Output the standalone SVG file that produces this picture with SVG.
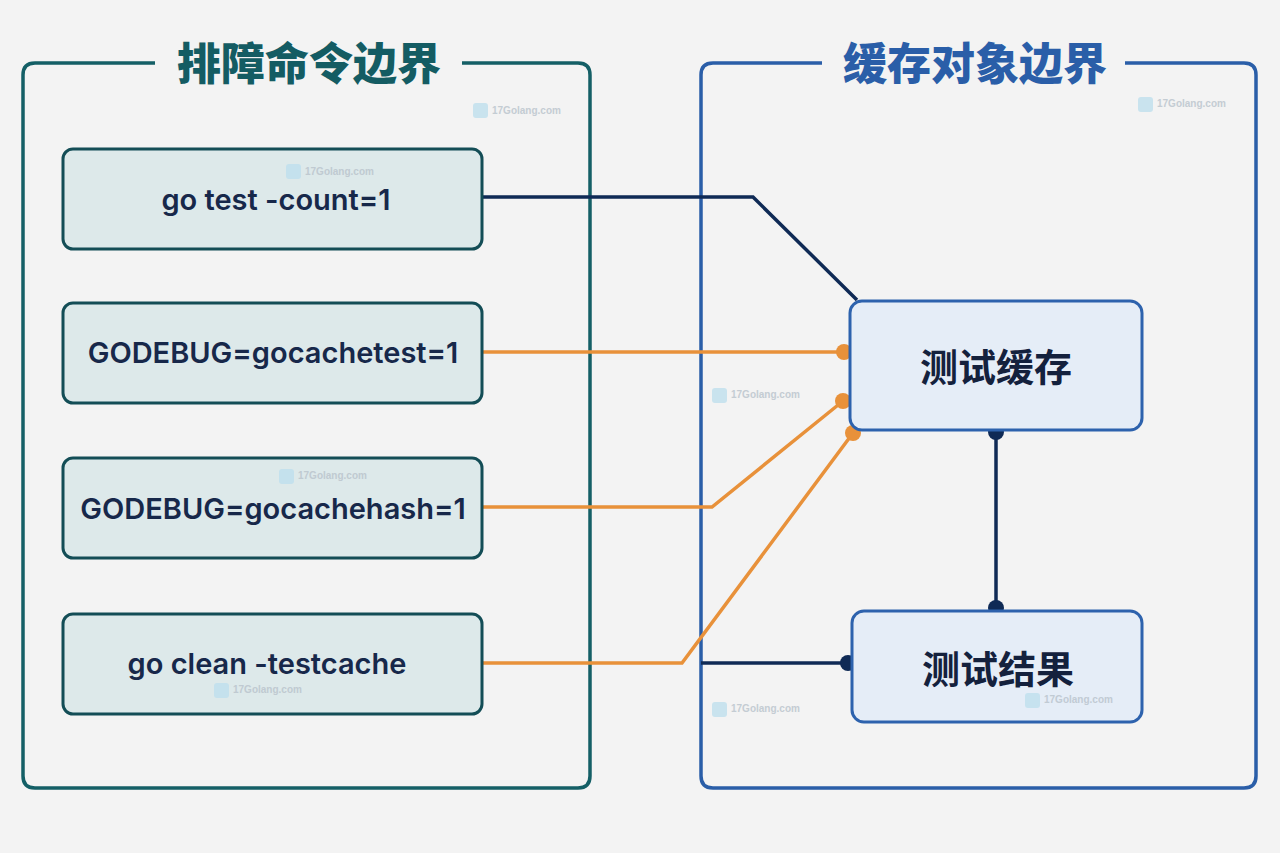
<svg xmlns="http://www.w3.org/2000/svg" width="1280" height="853" viewBox="0 0 1280 853">
<defs>
<style>
.bg{fill:#f3f3f3}
.cl{fill:none;stroke:#145f66;stroke-width:3.5}
.cr{fill:none;stroke:#2a5ea8;stroke-width:3.5}
.tl{font-family:"Noto Sans CJK SC","Noto Sans",sans-serif;font-weight:900;font-size:44px;fill:#145c63;text-anchor:middle}
.tr{font-family:"Noto Sans CJK SC","Noto Sans",sans-serif;font-weight:900;font-size:44px;fill:#2a5ea8;text-anchor:middle}
.nl{fill:#dde9ea;stroke:#134d56;stroke-width:3}
.nr{fill:#e5edf7;stroke:#2d62ad;stroke-width:3}
.tn{font-family:Inter,"Noto Sans",sans-serif;font-weight:600;font-size:29px;fill:#17284a;text-anchor:middle}
.tc{font-family:"Noto Sans CJK SC","Noto Sans",sans-serif;font-weight:700;font-size:38px;fill:#14213d;text-anchor:middle}
.navy{fill:none;stroke:#0f2a55;stroke-width:3.5;stroke-linejoin:miter}
.org{fill:none;stroke:#e8913a;stroke-width:3.5}
.dn{fill:#0f2a55}
.do{fill:#e8913a}
.wm{font-family:"Liberation Sans",Arial,sans-serif;font-size:10px;font-weight:700;fill:#b9c3cc}
.wi{fill:#bfe0ee}
</style>
</defs>
<rect class="bg" x="0" y="0" width="1280" height="853"/>

<g id="boundary-left">
<path class="cl" d="M155,63 H35 Q23,63 23,75 V776 Q23,788 35,788 H578 Q590,788 590,776 V75 Q590,63 578,63 H462"/>
<text class="tl" x="309" y="80">排障命令边界</text>
</g>
<g id="boundary-right">
<path class="cr" d="M822,63 H713 Q701,63 701,75 V776 Q701,788 713,788 H1244 Q1256,788 1256,776 V75 Q1256,63 1244,63 H1125"/>
<text class="tr" x="975" y="80">缓存对象边界</text>
</g>

<g id="connectors">
<polyline class="navy" points="482,197 753,197 857,300"/>
<polyline class="org" points="482,352 844,352"/>
<polyline class="org" points="482,507 712,507 843,401"/>
<polyline class="org" points="482,663 682,663 853,433"/>
<polyline class="navy" points="701,663 848,663"/>
<polyline class="navy" points="996,432 996,608"/>
<circle class="do" cx="844" cy="352" r="8"/>
<circle class="do" cx="843" cy="401" r="8"/>
<circle class="do" cx="853" cy="433" r="8"/>
<circle class="dn" cx="848" cy="663" r="8"/>
<circle class="dn" cx="996" cy="432" r="8"/>
<circle class="dn" cx="996" cy="608" r="8"/>
</g>

<g id="n-count">
<rect class="nl" x="63" y="149" width="419" height="100" rx="10"/>
<text class="tn" x="276" y="210">go test -count=1</text>
</g>
<g id="n-gocachetest">
<rect class="nl" x="63" y="303" width="419" height="100" rx="10"/>
<text class="tn" x="273" y="363">GODEBUG=gocachetest=1</text>
</g>
<g id="n-gocachehash">
<rect class="nl" x="63" y="458" width="419" height="100" rx="10"/>
<text class="tn" x="273" y="519">GODEBUG=gocachehash=1</text>
</g>
<g id="n-clean">
<rect class="nl" x="63" y="614" width="419" height="100" rx="10"/>
<text class="tn" x="267" y="674">go clean -testcache</text>
</g>

<g id="n-testcache">
<rect class="nr" x="850" y="301" width="292" height="129" rx="12"/>
<text class="tc" x="996" y="381">测试缓存</text>
</g>
<g id="n-testresult">
<rect class="nr" x="852" y="611" width="290" height="111" rx="12"/>
<text class="tc" x="998" y="683">测试结果</text>
</g>

<g id="watermarks" opacity="0.8">
<rect class="wi" x="473" y="103" width="15" height="15" rx="3"/><text class="wm" x="492" y="114">17Golang.com</text>
<rect class="wi" x="286" y="164" width="15" height="15" rx="3"/><text class="wm" x="305" y="175">17Golang.com</text>
<rect class="wi" x="712" y="388" width="15" height="15" rx="3"/><text class="wm" x="731" y="398">17Golang.com</text>
<rect class="wi" x="279" y="469" width="15" height="15" rx="3"/><text class="wm" x="298" y="479">17Golang.com</text>
<rect class="wi" x="1138" y="97" width="15" height="15" rx="3"/><text class="wm" x="1157" y="107">17Golang.com</text>
<rect class="wi" x="214" y="683" width="15" height="15" rx="3"/><text class="wm" x="233" y="693">17Golang.com</text>
<rect class="wi" x="712" y="702" width="15" height="15" rx="3"/><text class="wm" x="731" y="712">17Golang.com</text>
<rect class="wi" x="1025" y="693" width="15" height="15" rx="3"/><text class="wm" x="1044" y="703">17Golang.com</text>
</g>
</svg>
